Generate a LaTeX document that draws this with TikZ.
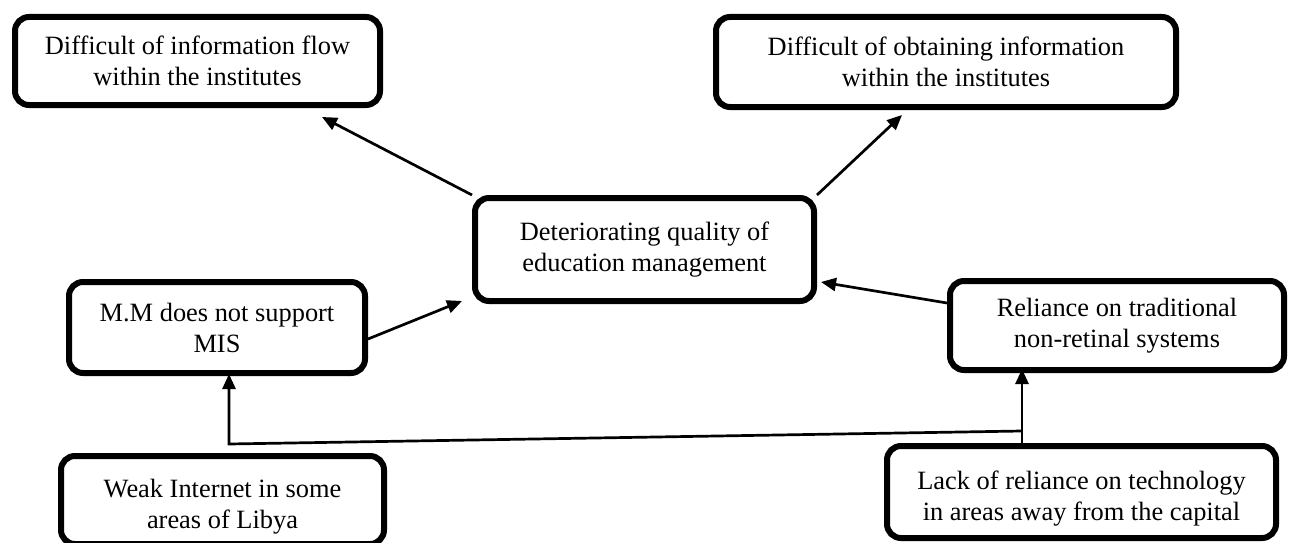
\documentclass[tikz,border=0pt]{standalone}
\usepackage{fontspec}
\setmainfont{Liberation Serif}
\usetikzlibrary{arrows.meta,calc}
\begin{document}
\begin{tikzpicture}[x=1pt,y=-1pt,
  box/.style={draw=black, fill=white, line width=6pt, rounded corners=14pt,
    align=center, inner sep=0pt, font=\fontsize{26.4}{31}\selectfont},
  conn/.style={line width=2.7pt, -{Triangle[length=15pt,width=13pt]}},
  plainline/.style={line width=2.7pt}]
\useasboundingbox (0,0) rectangle (1290,543);
% boxes
\node[box, minimum width=365pt, minimum height=88pt] (A) at (197.5,61)
  {Difficult of information flow\\within the institutes};
\node[box, minimum width=460pt, minimum height=90pt] (B) at (946,62)
  {Difficult of obtaining information\\within the institutes};
\node[box, minimum width=339pt, minimum height=103pt] (C) at (644.5,249.5)
  {Deteriorating quality of\\education management};
\node[box, minimum width=296pt, minimum height=91pt] (D) at (217,327.5)
  {M.M does not support\\MIS};
\node[box, minimum width=334pt, minimum height=89pt] (E) at (1117,325.5)
  {Reliance on traditional\\non-retinal systems};
\node[box, minimum width=323pt, minimum height=88pt] (F) at (222.5,500)
  {\rule{0pt}{32pt}Weak Internet in some\\areas of Libya};
\node[box, minimum width=389pt, minimum height=92pt] (G) at (1081.5,492)
  {\rule{0pt}{32pt}Lack of reliance on technology\\in areas away from the capital};
% connectors
\draw[conn] (C.north west) -- ($(A.south)+(124.5,9)$);
\draw[conn] (C.north east) -- ($(B.south)+(-44,5)$);
\draw[conn] ($(D.east)+(0,11.5)$) -- ($(C.south west)+(-10,-3)$);
\draw[conn] ($(E.west)+(0,-22.5)$) -- ($(C.east)+(4,32.5)$);
\draw[conn] ($(G.north)+(-59.5,0)$) -- ($(E.south)+(-95,-4)$);
\coordinate (j) at ($(G.north)+(-59.5,-12)$);
\draw[conn] (j) -- ($(D.south)+(12,68)$) -- ($(D.south)+(12,-2)$);
\end{tikzpicture}
\end{document}
